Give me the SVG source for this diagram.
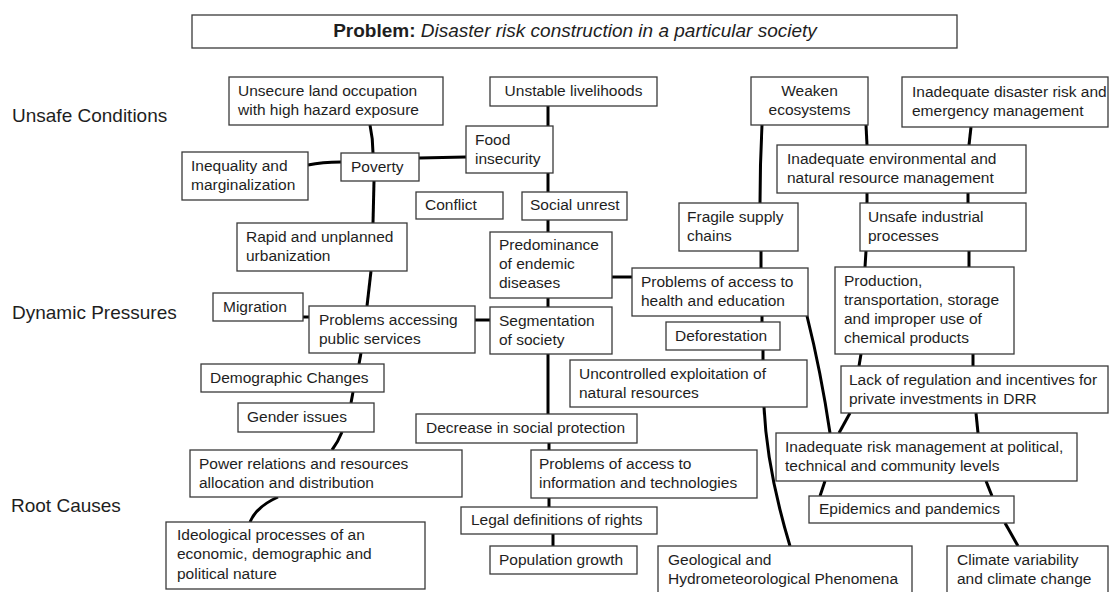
<svg xmlns="http://www.w3.org/2000/svg" width="1110" height="592" viewBox="0 0 1110 592">
<style>
.box{fill:#fff;stroke:#3a3a3a;stroke-width:1.3}
.t{font-family:"Liberation Sans",Arial,sans-serif;font-size:15.5px;fill:#1e1e1e}
.lbl{font-family:"Liberation Sans",Arial,sans-serif;font-size:19px;fill:#1e1e1e}
.c{fill:none;stroke:#000;stroke-width:3}
.mid{text-anchor:middle}
</style>
<rect width="1110" height="592" fill="#fff"/>
<g id="connectors">
<path class="c" d="M370,125 Q373,139 373,153"/>
<path class="c" d="M308,165 Q322,162 341,162"/>
<path class="c" d="M419,158 L466,157"/>
<path class="c" d="M548,106 L548,126"/>
<path class="c" d="M548,173 L548,192"/>
<path class="c" d="M374,181 L373,223"/>
<path class="c" d="M548,220 L548,232"/>
<path class="c" d="M371,271 L367,306"/>
<path class="c" d="M303,317 L309,317"/>
<path class="c" d="M475,320 L490,320"/>
<path class="c" d="M548,298 L548,307"/>
<path class="c" d="M612,277 L632,277"/>
<path class="c" d="M548,354 L548,414"/>
<path class="c" d="M361,353 L359,364"/>
<path class="c" d="M353,392 L351,403"/>
<path class="c" d="M342,432 Q338,442 332,450"/>
<path class="c" d="M278,497 Q256,507 250,522"/>
<path class="c" d="M549,443 L549,450"/>
<path class="c" d="M549,498 L549,507"/>
<path class="c" d="M553,534 L553,546"/>
<path class="c" d="M762,125 Q760,165 760,203"/>
<path class="c" d="M866,125 L867,145"/>
<path class="c" d="M971,127 L969,145"/>
<path class="c" d="M867,193 L867,203"/>
<path class="c" d="M968,193 L968,203"/>
<path class="c" d="M761,251 L761,268"/>
<path class="c" d="M866,251 L865,267"/>
<path class="c" d="M969,251 L969,267"/>
<path class="c" d="M762,316 L762,322"/>
<path class="c" d="M763,350 L763,360"/>
<path class="c" d="M764,407 Q767,470 790,546"/>
<path class="c" d="M807,316 Q821,372 830,433"/>
<path class="c" d="M861,354 L859,366"/>
<path class="c" d="M973,354 L973,366"/>
<path class="c" d="M850,413 L839,433"/>
<path class="c" d="M976,413 L978,433"/>
<path class="c" d="M825,481 L820,496"/>
<path class="c" d="M986,481 L992,496"/>
<path class="c" d="M1005,523 L1018,546"/>
</g>
<g id="title"><rect class="box" x="192" y="15" width="765" height="33"/>
<text x="575" y="37" class="mid" style="font-family:'Liberation Sans',Arial,sans-serif;font-size:19px;fill:#1e1e1e"><tspan font-weight="bold">Problem:</tspan> <tspan font-style="italic">Disaster risk construction in a particular society</tspan></text></g>
<g id="labels">
<text class="lbl" x="12" y="122">Unsafe Conditions</text>
<text class="lbl" x="12" y="319">Dynamic Pressures</text>
<text class="lbl" x="11" y="512">Root Causes</text>
</g>
<g id="unsecure"><rect class="box" x="229" y="77" width="214" height="48"/><text class="t" x="238" y="96"><tspan>Unsecure land occupation</tspan><tspan x="238" dy="19.3">with high hazard exposure</tspan></text></g>
<g id="unstable"><rect class="box" x="490" y="77" width="167" height="29"/><text class="t mid" x="573.5" y="96">Unstable livelihoods</text></g>
<g id="weaken"><rect class="box" x="751" y="77" width="117" height="48"/><text class="t mid" x="809.5" y="96"><tspan>Weaken</tspan><tspan x="809.5" dy="19.3">ecosystems</tspan></text></g>
<g id="inadequate-disaster"><rect class="box" x="902" y="77" width="206" height="50"/><text class="t" x="912" y="97"><tspan>Inadequate disaster risk and</tspan><tspan x="912" dy="19.3">emergency management</tspan></text></g>
<g id="food"><rect class="box" x="466" y="126" width="87" height="47"/><text class="t" x="475" y="145"><tspan>Food</tspan><tspan x="475" dy="19.3">insecurity</tspan></text></g>
<g id="poverty"><rect class="box" x="341" y="153" width="78" height="28"/><text class="t" x="351" y="172">Poverty</text></g>
<g id="inequality"><rect class="box" x="182" y="152" width="126" height="48"/><text class="t" x="191" y="171"><tspan>Inequality and</tspan><tspan x="191" dy="19.3">marginalization</tspan></text></g>
<g id="inadequate-env"><rect class="box" x="777" y="145" width="249" height="48"/><text class="t" x="787" y="164"><tspan>Inadequate environmental and</tspan><tspan x="787" dy="19.3">natural resource management</tspan></text></g>
<g id="conflict"><rect class="box" x="416" y="192" width="87" height="27"/><text class="t" x="425" y="210">Conflict</text></g>
<g id="social-unrest"><rect class="box" x="522" y="192" width="105" height="28"/><text class="t" x="530" y="210">Social unrest</text></g>
<g id="fragile"><rect class="box" x="679" y="203" width="119" height="48"/><text class="t" x="687" y="222"><tspan>Fragile supply</tspan><tspan x="687" dy="19.3">chains</tspan></text></g>
<g id="unsafe-industrial"><rect class="box" x="860" y="203" width="166" height="48"/><text class="t" x="868" y="222"><tspan>Unsafe industrial</tspan><tspan x="868" dy="19.3">processes</tspan></text></g>
<g id="rapid"><rect class="box" x="237" y="223" width="170" height="48"/><text class="t" x="246" y="242"><tspan>Rapid and unplanned</tspan><tspan x="246" dy="19.3">urbanization</tspan></text></g>
<g id="predominance"><rect class="box" x="490" y="232" width="122" height="66"/><text class="t" x="499" y="249.5"><tspan>Predominance</tspan><tspan x="499" dy="19.3">of endemic</tspan><tspan x="499" dy="19.3">diseases</tspan></text></g>
<g id="production"><rect class="box" x="835" y="267" width="179" height="87"/><text class="t" x="844" y="285.5"><tspan>Production,</tspan><tspan x="844" dy="19.3">transportation, storage</tspan><tspan x="844" dy="19.3">and improper use of</tspan><tspan x="844" dy="19.3">chemical products</tspan></text></g>
<g id="health"><rect class="box" x="632" y="268" width="176" height="48"/><text class="t" x="641" y="287"><tspan>Problems of access to</tspan><tspan x="641" dy="19.3">health and education</tspan></text></g>
<g id="migration"><rect class="box" x="213" y="293" width="90" height="28"/><text class="t" x="223" y="312">Migration</text></g>
<g id="accessing"><rect class="box" x="309" y="306" width="166" height="47"/><text class="t" x="319" y="325"><tspan>Problems accessing</tspan><tspan x="319" dy="19.3">public services</tspan></text></g>
<g id="segmentation"><rect class="box" x="490" y="307" width="122" height="47"/><text class="t" x="499" y="326"><tspan>Segmentation</tspan><tspan x="499" dy="19.3">of society</tspan></text></g>
<g id="deforestation"><rect class="box" x="666" y="322" width="114" height="28"/><text class="t" x="675" y="341">Deforestation</text></g>
<g id="uncontrolled"><rect class="box" x="570" y="360" width="237" height="47"/><text class="t" x="579" y="379"><tspan>Uncontrolled exploitation of</tspan><tspan x="579" dy="19.3">natural resources</tspan></text></g>
<g id="demographic"><rect class="box" x="201" y="364" width="183" height="28"/><text class="t" x="210" y="383">Demographic Changes</text></g>
<g id="lack"><rect class="box" x="841" y="366" width="267" height="47"/><text class="t" x="849" y="385"><tspan>Lack of regulation and incentives for</tspan><tspan x="849" dy="19.3">private investments in DRR</tspan></text></g>
<g id="gender"><rect class="box" x="238" y="403" width="136" height="29"/><text class="t" x="247" y="422">Gender issues</text></g>
<g id="decrease"><rect class="box" x="416" y="414" width="221" height="29"/><text class="t" x="426" y="433">Decrease in social protection</text></g>
<g id="inadequate-risk"><rect class="box" x="776" y="433" width="301" height="48"/><text class="t" x="785" y="452"><tspan>Inadequate risk management at political,</tspan><tspan x="785" dy="19.3">technical and community levels</tspan></text></g>
<g id="power"><rect class="box" x="190" y="450" width="272" height="47"/><text class="t" x="199" y="469"><tspan>Power relations and resources</tspan><tspan x="199" dy="19.3">allocation and distribution</tspan></text></g>
<g id="information"><rect class="box" x="531" y="450" width="226" height="48"/><text class="t" x="539" y="469"><tspan>Problems of access to</tspan><tspan x="539" dy="19.3">information and technologies</tspan></text></g>
<g id="epidemics"><rect class="box" x="809" y="496" width="205" height="27"/><text class="t" x="819" y="514">Epidemics and pandemics</text></g>
<g id="legal"><rect class="box" x="461" y="507" width="196" height="27"/><text class="t" x="471" y="525">Legal definitions of rights</text></g>
<g id="ideological"><rect class="box" x="166" y="522" width="259" height="67"/><text class="t" x="177" y="540"><tspan>Ideological processes of an</tspan><tspan x="177" dy="19.3">economic, demographic and</tspan><tspan x="177" dy="19.3">political nature</tspan></text></g>
<g id="population"><rect class="box" x="490" y="546" width="147" height="28"/><text class="t" x="499" y="565">Population growth</text></g>
<g id="geological"><rect class="box" x="658" y="546" width="254" height="60"/><text class="t" x="668" y="565"><tspan>Geological and</tspan><tspan x="668" dy="19.3">Hydrometeorological Phenomena</tspan></text></g>
<g id="climate"><rect class="box" x="947" y="546" width="161" height="60"/><text class="t" x="957" y="565"><tspan>Climate variability</tspan><tspan x="957" dy="19.3">and climate change</tspan></text></g>
</svg>
